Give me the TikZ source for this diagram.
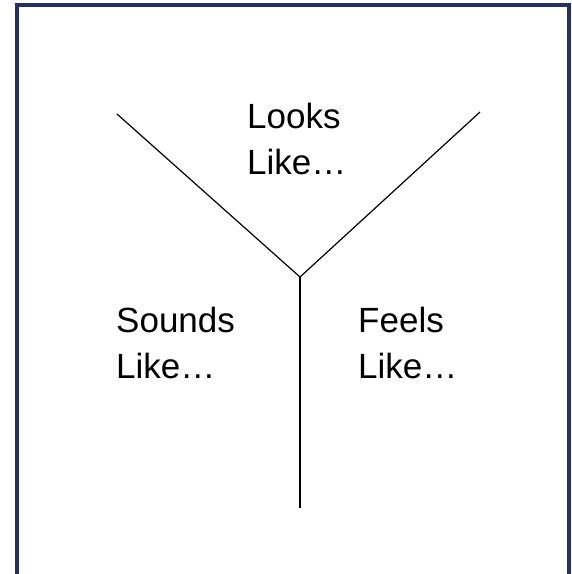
\documentclass[tikz,border=0pt]{standalone}
\usepackage{fontspec}
\setmainfont{Liberation Sans}
\usepackage{tikz}
\usetikzlibrary{positioning,calc}
\usepackage{xcolor}
\definecolor{frameblue}{HTML}{243066}

\begin{document}
\begin{tikzpicture}[x=1pt,y=-1pt,
  label text/.style={font=\fontsize{35}{46}\selectfont,align=left,inner sep=0pt,anchor=base west}]
\useasboundingbox (0,0) rectangle (572,574);
\draw[frameblue,line width=4pt] (16.5,4.5) rectangle (569,590);
% the fork
\coordinate (tl) at (117,114);
\coordinate (tr) at (480,112);
\coordinate (fork) at (300,277);
\coordinate (stem) at (300,508);
\draw[line width=1.2pt] (tl) -- (fork) -- (tr);
\draw[line width=1.2pt] (fork) -- (stem);
% labels (anchored at the baseline of the last line)
\node (looks) at (247,174) [label text] {Looks\\Like…};
\node (sounds) at (116,378) [label text] {Sounds\\Like…};
\node (feels) at (358,378) [label text] {Feels\\Like…};
\end{tikzpicture}
\end{document}
